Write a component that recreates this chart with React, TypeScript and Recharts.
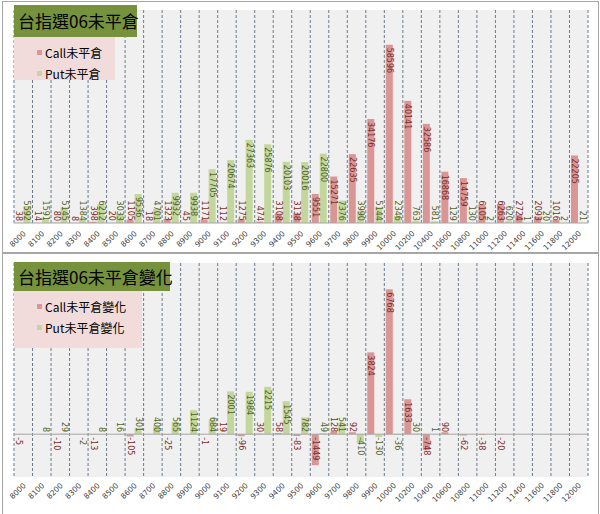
import { BarChart, Bar, XAxis, YAxis, CartesianGrid, LabelList, ReferenceLine } from 'recharts';

// 履約價 (8000~10000 每 100 點, 之後每 200 點)
const strikes = [
  '8000', '8100', '8200', '8300', '8400', '8500', '8600', '8700', '8800', '8900',
  '9000', '9100', '9200', '9300', '9400', '9500', '9600', '9700', '9800', '9900',
  '10000', '10200', '10400', '10600', '10800', '11000', '11200', '11400', '11600', '11800', '12000',
];

// 未平倉
const callOI = [
  38, 14, 80, 8, 398, 20, 1105, 18, 1323, 45,
  1171, 112, 1275, 474, 3108, 3138, 9551, 15271, 22635, 34176,
  58596, 40141, 32586, 16868, 14759, 6105, 6263, 2724, 2093, 1016, 22205,
];
const putOI = [
  5592, 1591, 5145, 1384, 6212, 3033, 9536, 4701, 9932, 9938,
  17705, 20674, 27363, 25876, 20103, 20016, 22800, 7376, 3990, 5144,
  2346, 763, 581, 129, 130, 2, 620, 1, 20, 2, 21,
];

// 未平倉變化
const callChange = [
  -5, 0, -10, 0, -13, 0, -105, 0, -25, 0,
  -1, 19, -96, 30, 58, -83, -1449, 128, 92, 3824,
  6768, 1633, -748, 90, -62, -38, -20, 0, 0, 0, 0,
];
const putChange = [
  0, 8, 29, -2, 8, 16, 301, 400, 565, 1124,
  684, 2001, 1984, 2215, 1545, 782, 49, 541, -410, -130,
  -36, 30, 1, 0, 0, 0, 0, 0, 0, 0, 0,
];

const oiData = strikes.map((s, i) => ({ strike: s, call: callOI[i], put: putOI[i] }));
const chgData = strikes.map((s, i) => ({ strike: s, call: callChange[i], put: putChange[i] }));

const CALL_COLOR = '#d99694';
const PUT_COLOR = '#c3d69b';
const CALL_TEXT = '#7b2c2a';
const PUT_TEXT = '#4f6228';
const NUM_FONT = '"DejaVu Sans", Verdana, sans-serif';
const CJK_FONT = '"Noto Sans CJK TC", "Noto Sans", sans-serif';
const BORDER = '#a6a6a6';

// vertical text, inside the bar end, pushed back to the baseline if the bar is too short
function makeBarLabel(color: string) {
  return (props: any) => {
    const vb = props.viewBox ?? props;
    const x = vb.x ?? props.x;
    const y = vb.y ?? props.y;
    const w = vb.width ?? props.width;
    const h = vb.height ?? props.height;
    const v = Number(props.value);
    const text = String(props.value);
    const len = text.length * 5.1;
    const top = Math.min(y, y + h);
    const bottom = Math.max(y, y + h);
    const cx = x + w / 2;
    let y1: number;
    if (v >= 0) {
      y1 = Math.min(top + 3, bottom - 2 - len);
    } else {
      const y2 = Math.max(bottom - 3, top + 3 + len);
      y1 = y2 - len;
    }
    return (
      <text
        x={cx}
        y={y1}
        transform={`rotate(90, ${cx}, ${y1})`}
        textAnchor="start"
        dominantBaseline="central"
        fontSize={8}
        fill={color}
        fontFamily={NUM_FONT}
      >
        {text}
      </text>
    );
  };
}

function makeTick(dy: number) {
  return (props: any) => {
    const { x, y, payload } = props;
    return (
      <g transform={`translate(${x + 3},${y + dy})`}>
        <text
          x={0}
          y={0}
          transform="rotate(-45)"
          textAnchor="end"
          fontSize={7.5}
          fill="#404040"
          fontFamily={NUM_FONT}
        >
          {payload.value}
        </text>
      </g>
    );
  };
}

const boundaryLines = ({ offset }: any) => {
  const step = offset.width / strikes.length;
  const xs = strikes.map((_, i) => offset.left + i * step);
  xs.push(offset.left + offset.width);
  return xs;
};

function TitleBox({ text, left, top, width, height }: any) {
  return (
    <div
      style={{
        position: 'absolute',
        left,
        top,
        width,
        height,
        background: '#76923c',
        color: '#000',
        fontFamily: CJK_FONT,
        fontSize: 17,
        lineHeight: `${height}px`,
        paddingLeft: 4,
        boxSizing: 'border-box',
        whiteSpace: 'nowrap',
      }}
    >
      {text}
    </div>
  );
}

function LegendBox({ items, left, top, width, height }: any) {
  return (
    <div
      style={{
        position: 'absolute',
        left,
        top,
        width,
        height,
        background: '#f2dcdb',
        fontFamily: CJK_FONT,
        fontSize: 12,
        color: '#000',
        boxSizing: 'border-box',
        paddingTop: 5,
        paddingLeft: 23,
      }}
    >
      {items.map((it: any) => (
        <div key={it.label} style={{ height: 21, display: 'flex', alignItems: 'center' }}>
          <span style={{ display: 'inline-block', width: 5, height: 5, background: it.color, marginRight: 3 }} />
          {it.label}
        </div>
      ))}
    </div>
  );
}

export default function App() {
  return (
    <div style={{ position: 'absolute', left: 0, top: 0, width: 600, height: 514, background: '#fff', overflow: 'hidden' }}>
      {/* 上圖 */}
      <div style={{ position: 'absolute', left: 2, top: 1, width: 597, height: 252, border: `1px solid ${BORDER}`, boxSizing: 'border-box' }} />
      <div style={{ position: 'absolute', left: 0, top: 0 }}>
        <BarChart
          width={600}
          height={252}
          data={oiData}
          margin={{ top: 10, right: 12, bottom: 9, left: 14 }}
          barCategoryGap="8%"
          barGap={1}
          style={{ overflow: 'visible' }}
        >
          <CartesianGrid
            horizontal={false}
            stroke="#6b7b8c"
            strokeDasharray="3 2"
            fill="#f0f0f0"
            verticalCoordinatesGenerator={boundaryLines}
          />
          <XAxis
            dataKey="strike"
            interval={0}
            height={20}
            tickLine={false}
            tickSize={0}
            tickMargin={0}
            axisLine={{ stroke: BORDER }}
            tick={makeTick(11)}
          />
          <YAxis hide domain={[0, 70000]} />
          <Bar dataKey="call" name="Call未平倉" fill={CALL_COLOR} isAnimationActive={false}>
            <LabelList dataKey="call" content={makeBarLabel(CALL_TEXT)} />
          </Bar>
          <Bar dataKey="put" name="Put未平倉" fill={PUT_COLOR} isAnimationActive={false}>
            <LabelList dataKey="put" content={makeBarLabel(PUT_TEXT)} />
          </Bar>
        </BarChart>
      </div>
      <TitleBox text="台指選06未平倉" left={14} top={5} width={123} height={32} />
      <LegendBox
        left={14}
        top={37}
        width={101}
        height={43}
        items={[
          { label: 'Call未平倉', color: CALL_COLOR },
          { label: 'Put未平倉', color: PUT_COLOR },
        ]}
      />

      {/* 下圖 */}
      <div style={{ position: 'absolute', left: 2, top: 253, width: 597, height: 264, border: `1px solid ${BORDER}`, boxSizing: 'border-box' }} />
      <div style={{ position: 'absolute', left: 0, top: 253 }}>
        <BarChart
          width={600}
          height={261}
          data={chgData}
          margin={{ top: 10, right: 12, bottom: 7, left: 14 }}
          barCategoryGap="8%"
          barGap={1}
          style={{ overflow: 'visible' }}
        >
          <CartesianGrid
            horizontal={false}
            stroke="#6b7b8c"
            strokeDasharray="3 2"
            fill="#f0f0f0"
            verticalCoordinatesGenerator={boundaryLines}
          />
          <XAxis
            dataKey="strike"
            interval={0}
            height={30}
            tickLine={false}
            tickSize={0}
            tickMargin={0}
            axisLine={false}
            tick={makeTick(9)}
          />
          <YAxis hide domain={[-2000, 8000]} />
          <ReferenceLine y={0} stroke={BORDER} />
          <Bar dataKey="call" name="Call未平倉變化" fill={CALL_COLOR} isAnimationActive={false}>
            <LabelList dataKey="call" content={makeBarLabel(CALL_TEXT)} />
          </Bar>
          <Bar dataKey="put" name="Put未平倉變化" fill={PUT_COLOR} isAnimationActive={false}>
            <LabelList dataKey="put" content={makeBarLabel(PUT_TEXT)} />
          </Bar>
        </BarChart>
      </div>
      <TitleBox text="台指選06未平倉變化" left={14} top={262} width={156} height={29} />
      <LegendBox
        left={14}
        top={291}
        width={128}
        height={57}
        items={[
          { label: 'Call未平倉變化', color: CALL_COLOR },
          { label: 'Put未平倉變化', color: PUT_COLOR },
        ]}
      />
    </div>
  );
}
